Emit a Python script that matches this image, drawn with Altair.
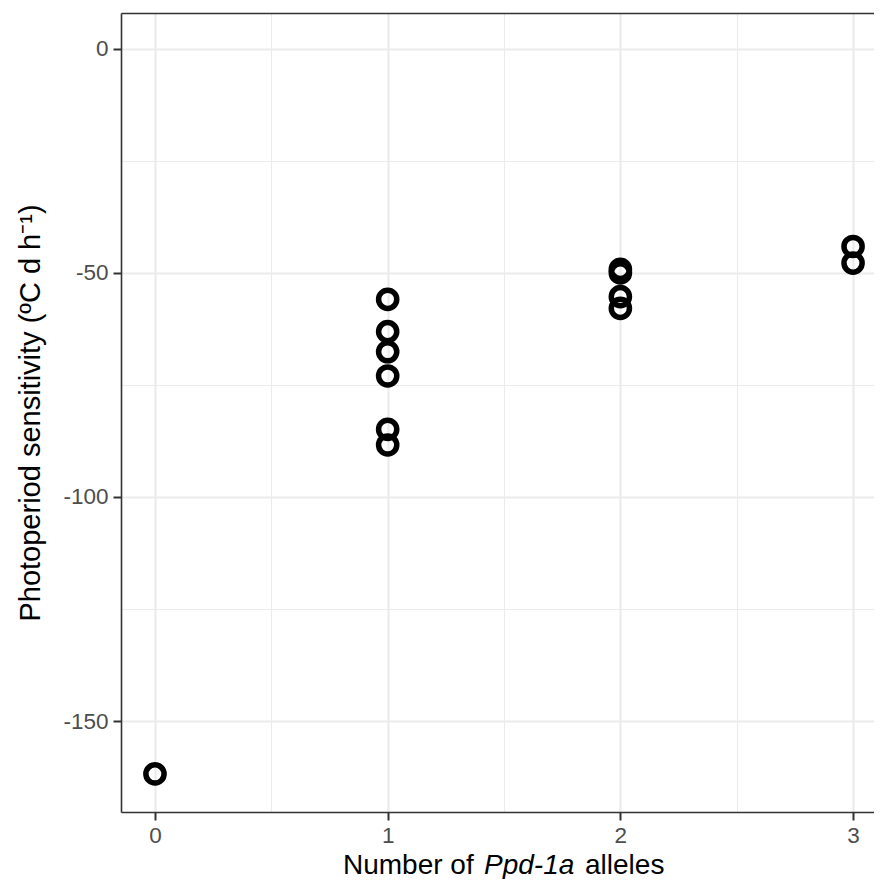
import altair as alt
import pandas as pd

# Data
alleles = [0, 1, 1, 1, 1, 1, 1, 2, 2, 2, 2, 3, 3]
sensitivity = [-161.8, -55.9, -63.1, -67.6, -73.0, -84.9, -88.4,
               -49.2, -50.0, -55.3, -57.9, -44.1, -47.8]
x_ticks = [0, 1, 2, 3]
y_ticks = [-150, -100, -50, 0]
x_minor = [0.5, 1.5, 2.5]
y_minor = [-125, -75, -25]
x_title_parts = ["Number of ", "Ppd-1a", "alleles"]
y_title = "Photoperiod sensitivity (ºC d h⁻¹)"

df = pd.DataFrame({"alleles": alleles, "sens": sensitivity})

W, H = 753, 799
FONT = "Liberation Sans"
GRID = "#EBEBEB"
BORDER = "#333333"

xs = alt.Scale(domain=[-0.146, 3.09], nice=False, zero=False)
ys = alt.Scale(domain=[-170.3, 8], nice=False, zero=False)

# minor grid + top/left border lines
minor = alt.Chart(df).mark_point(opacity=0).encode(
    x=alt.X("alleles:Q", scale=xs, axis=alt.Axis(
        orient="top", values=x_minor, labels=False, ticks=False,
        domain=True, domainColor=BORDER, domainWidth=1.6,
        grid=True, gridColor=GRID, gridWidth=1.1, title=None)),
    y=alt.Y("sens:Q", scale=ys, axis=alt.Axis(
        orient="left", values=y_minor, labels=False, ticks=False,
        domain=True, domainColor=BORDER, domainWidth=1.6,
        grid=True, gridColor=GRID, gridWidth=1.1, title=None)),
)

points = alt.Chart(df).mark_point(
    shape="circle", filled=False, size=330, strokeWidth=5.5,
    color="black", opacity=1
).encode(
    x=alt.X("alleles:Q", scale=xs, axis=alt.Axis(
        orient="bottom", values=x_ticks, labelExpr="'' + datum.value", title=None,
        grid=True, gridColor=GRID, gridWidth=2.2,
        domain=True, domainColor=BORDER, domainWidth=1.6,
        ticks=True, tickColor=BORDER, tickWidth=2, tickSize=8,
        labelFont=FONT, labelFontSize=22.5, labelColor="#4D4D4D", labelPadding=4)),
    y=alt.Y("sens:Q", scale=ys, axis=alt.Axis(
        orient="left", values=y_ticks, labelExpr="'' + datum.value", title=y_title,
        grid=True, gridColor=GRID, gridWidth=2.2,
        domain=False, ticks=True, tickColor=BORDER, tickWidth=2, tickSize=8,
        labelFont=FONT, labelFontSize=22.5, labelColor="#4D4D4D", labelPadding=5,
        titleFont=FONT, titleFontSize=29, titleFontWeight="normal",
        titleColor="black", titlePadding=17)),
)

title_x = [222, 363, 464]
title_styles = ["normal", "italic", "normal"]
title_layers = []
for part, px, style in zip(x_title_parts, title_x, title_styles):
    title_layers.append(
        alt.Chart(pd.DataFrame({"t": [part]})).mark_text(
            font=FONT, fontSize=28, fontStyle=style, color="black",
            align="left", baseline="alphabetic"
        ).encode(text="t:N", x=alt.value(px), y=alt.value(861))
    )

chart = alt.layer(minor, points, *title_layers).resolve_axis(
    x="independent", y="independent"
).properties(
    width=W, height=H,
    autosize=alt.AutoSizeParams(type="none"),
    padding={"left": 113, "top": 5, "right": 0, "bottom": 67},
).configure_view(stroke=None)

chart.save("out.html", embed_options={"renderer": "svg", "actions": False})
